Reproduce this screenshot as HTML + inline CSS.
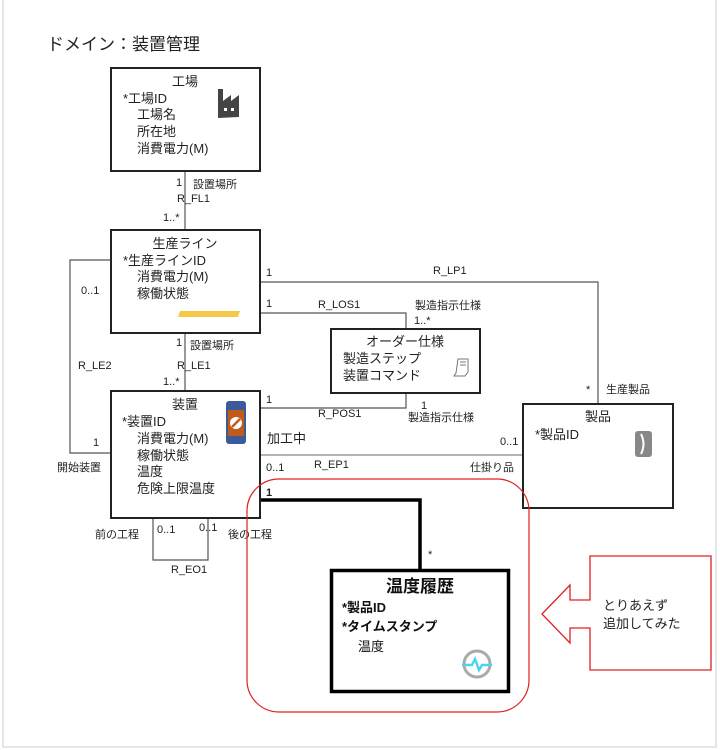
<!DOCTYPE html>
<html><head><meta charset="utf-8"><style>
html,body{margin:0;padding:0;background:#fff}
svg{display:block}
text{font-family:"Liberation Sans","Noto Sans CJK JP",sans-serif;font-size:13px;fill:#222}
.s{font-size:11px}
.m{fill:#444}
</style></head><body>
<svg width="720" height="750" viewBox="0 0 720 750">
<rect x="3" y="-2" width="713" height="749" fill="none" stroke="#ddd" stroke-width="1.5"/>
<text x="47" y="50" style="font-size:17px">ドメイン：装置管理</text>

<!-- connectors -->
<g fill="none" stroke="#555" stroke-width="1.2">
<line x1="185" y1="171" x2="185" y2="230"/>
<line x1="185" y1="333" x2="185" y2="391"/>
<polyline points="260,282 598,282 598,404"/>
<polyline points="260,313 406,313 406,329"/>
<polyline points="260,408 406,408 406,393"/>
<polyline points="111,260 70,260 70,453 111,453"/>
<polyline points="153,518 153,560 208,560 208,518"/>
<line x1="260" y1="455" x2="523" y2="455" stroke="#888"/>
</g>
<polyline points="260,500 420,500 420,570" fill="none" stroke="#000" stroke-width="3.5"/>

<!-- 工場 -->
<rect x="111" y="68" width="149" height="103" fill="#fff" stroke="#222" stroke-width="2"/>
<text x="185" y="86" text-anchor="middle">工場</text>
<text x="123" y="103">*工場ID</text>
<text x="137" y="119">工場名</text>
<text x="137" y="136">所在地</text>
<text x="137" y="153">消費電力(M)</text>
<path d="M218 118 V89 h5 v12 l8 -6 v6 l8 -6 v22 z" fill="#444"/>
<rect x="224" y="108" width="3" height="3" fill="#fff"/><rect x="231" y="108" width="3" height="3" fill="#fff"/>

<text x="176" y="186" class="s">1</text>
<text x="193" y="188" class="s">設置場所</text>
<text x="177" y="202" class="s">R_FL1</text>
<text x="163" y="221" class="s">1..*</text>

<!-- 生産ライン -->
<rect x="111" y="230" width="149" height="103" fill="#fff" stroke="#222" stroke-width="2"/>
<text x="185" y="248" text-anchor="middle">生産ライン</text>
<text x="123" y="265">*生産ラインID</text>
<text x="137" y="281">消費電力(M)</text>
<text x="137" y="298">稼働状態</text>
<polygon points="180,311 240,311 238,317 178,317" fill="#f5c84a"/>

<text x="266" y="276" class="s">1</text>
<text x="433" y="274" class="s">R_LP1</text>
<text x="586" y="393" class="s">*</text>
<text x="606" y="393" class="s">生産製品</text>
<text x="266" y="307" class="s">1</text>
<text x="318" y="308" class="s">R_LOS1</text>
<text x="415" y="309" class="s">製造指示仕様</text>
<text x="414" y="324" class="s">1..*</text>
<text x="81" y="294" class="s">0..1</text>
<text x="78" y="369" class="s">R_LE2</text>
<text x="176" y="346" class="s">1</text>
<text x="190" y="349" class="s">設置場所</text>
<text x="177" y="369" class="s">R_LE1</text>
<text x="163" y="385" class="s">1..*</text>

<!-- オーダー仕様 -->
<rect x="331" y="329" width="149" height="64" fill="#fff" stroke="#222" stroke-width="2"/>
<text x="405" y="346" text-anchor="middle">オーダー仕様</text>
<text x="343" y="363">製造ステップ</text>
<text x="343" y="380">装置コマンド</text>
<path d="M458 359 h10 v13 l-3 4 h-11 l2 -3 z" fill="none" stroke="#777"/>
<line x1="460" y1="362" x2="466" y2="362" stroke="#777"/><line x1="460" y1="365" x2="466" y2="365" stroke="#777"/>

<text x="266" y="403" class="s">1</text>
<text x="318" y="417" class="s">R_POS1</text>
<text x="421" y="409" class="s">1</text>
<text x="408" y="421" class="s">製造指示仕様</text>

<!-- 装置 -->
<rect x="111" y="391" width="149" height="127" fill="#fff" stroke="#222" stroke-width="2"/>
<text x="185" y="409" text-anchor="middle">装置</text>
<text x="122" y="426">*装置ID</text>
<text x="137" y="443">消費電力(M)</text>
<text x="137" y="460">稼働状態</text>
<text x="137" y="476">温度</text>
<text x="137" y="493">危険上限温度</text>
<rect x="226" y="401" width="20" height="43" rx="3" fill="#3a5a9a"/>
<rect x="228" y="410" width="16" height="26" fill="#c25a1a"/>
<circle cx="236" cy="423" r="6" fill="#fff"/><line x1="232" y1="427" x2="240" y2="419" stroke="#c25a1a" stroke-width="2.5"/>

<text x="93" y="446" class="s">1</text>
<text x="57" y="471" class="s">開始装置</text>
<text x="267" y="443">加工中</text>
<text x="266" y="471" class="s">0..1</text>
<text x="314" y="468" class="s">R_EP1</text>
<text x="500" y="445" class="s">0..1</text>
<text x="470" y="471" class="s">仕掛り品</text>
<text x="266" y="496" class="s" style="font-weight:bold">1</text>
<text x="95" y="538" class="s">前の工程</text>
<text x="157" y="533" class="s">0..1</text>
<text x="199" y="531" class="s">0..1</text>
<text x="228" y="538" class="s">後の工程</text>
<text x="171" y="573" class="s">R_EO1</text>

<!-- 製品 -->
<rect x="523" y="404" width="150" height="104" fill="#fff" stroke="#222" stroke-width="2"/>
<text x="598" y="421" text-anchor="middle">製品</text>
<text x="535" y="439">*製品ID</text>
<rect x="635" y="431" width="17" height="26" rx="3" fill="#888"/>
<path d="M641 434 q5 10 0 20" stroke="#fff" stroke-width="2" fill="none"/>

<!-- red rounded -->
<rect x="247" y="479" width="282" height="233" rx="32" fill="none" stroke="#e02020" stroke-width="1.2"/>

<text x="428" y="558" class="s">*</text>
<!-- 温度履歴 -->
<rect x="331.5" y="570.5" width="177" height="121" fill="#fff" stroke="#000" stroke-width="3.5"/>
<text x="420" y="592" text-anchor="middle" style="font-size:17px;font-weight:bold;fill:#111">温度履歴</text>
<text x="342" y="612" style="font-weight:bold;fill:#111">*製品ID</text>
<text x="342" y="631" style="font-weight:bold;fill:#111">*タイムスタンプ</text>
<text x="358" y="651" style="fill:#111">温度</text>
<circle cx="477" cy="664" r="13" fill="none" stroke="#aaa" stroke-width="3"/>
<polyline points="462,665 472,665 475,659 479,670 482,665 492,665" fill="none" stroke="#4fd4f0" stroke-width="2.5"/>

<!-- arrow -->
<polygon points="590,556 711,556 711,670 590,670 590,628 570,628 570,643 542,614 570,585 570,600 590,600" fill="#fff" stroke="#e02020" stroke-width="1.3"/>
<text x="603" y="610">とりあえず</text>
<text x="603" y="628">追加してみた</text>
</svg>
</body></html>
